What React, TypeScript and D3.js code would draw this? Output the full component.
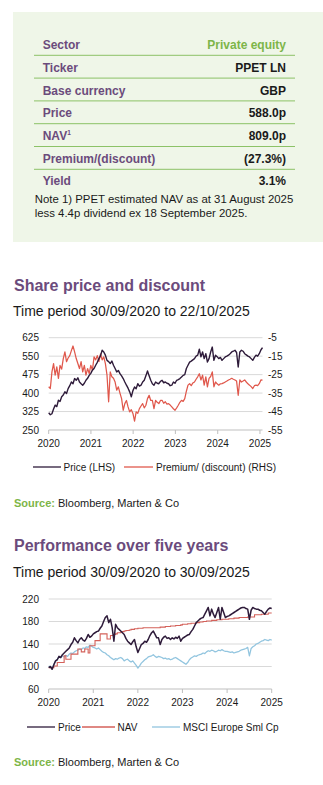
import React from "react";
import * as d3 from "d3";

// ---------- Fact table ----------
const tableLabels = ["Sector", "Ticker", "Base currency", "Price", "NAV", "Premium/(discount)", "Yield"];
const tableValues = ["Private equity", "PPET LN", "GBP", "588.0p", "809.0p", "(27.3%)", "3.1%"];
const noteLines = [
  "Note 1) PPET estimated NAV as at 31 August 2025",
  "less 4.4p dividend ex 18 September 2025.",
];

// ---------- Chart 1: share price and discount ----------
const spStart = "2020-09-30";
const spEnd = "2025-10-22";
const spPrice = [
  320, 312, 316, 335, 351, 345, 371, 366, 385, 392, 405, 398, 418, 430, 445, 438, 459, 452, 462, 445,
  438, 432, 440, 452, 460, 472, 480, 493, 500, 513, 525, 540, 552, 574, 567, 554, 533, 528, 520, 530,
  513, 500, 486, 492, 479, 470, 459, 445, 432, 420, 405, 385, 410, 425, 418, 438, 428, 432, 445, 452,
  470, 490, 470, 452, 438, 432, 445, 440, 438, 448, 452, 442, 445, 440, 438, 430, 432, 445, 440, 452,
  455, 459, 465, 472, 475, 500, 513, 526, 530, 535, 540, 550, 554, 578, 547, 567, 540, 560, 526, 540,
  567, 587, 533, 554, 548, 540, 545, 533, 540, 547, 550, 554, 560, 567, 570, 574, 565, 506, 567, 574,
  570, 560, 555, 550, 547, 540, 533, 545, 554, 550, 560, 575, 585,
];
const spPremium = [
  -31.6, -32.5, -23.5, -19, -25.3, -20.8, -27, -20, -22, -16.3, -12.7, -18, -16, -14.7, -12, -9.5, -12.7, -16.3, -19, -21.7,
  -18, -23.5, -20, -25.3, -21.7, -24.4, -20, -22.6, -15.4, -17, -14.7, -18, -13.7, -17, -15.4, -19, -25.3, -39.7, -23.5, -26.2,
  -27, -29, -33.4, -31.6, -35, -38, -44.3, -40.7, -39, -42.5, -45.2, -44, -46, -50.2, -45.2, -46, -43.4, -42, -40.7, -43,
  -41.6, -38, -36.2, -39, -38.9, -43.4, -38.9, -40, -40.7, -39, -38.9, -40.5, -39.7, -41, -40.7, -41.5, -42.5, -43.5, -44.3, -43,
  -41.6, -40, -38.9, -39.5, -38, -34, -30.7, -29.9, -31, -29.5, -29, -27.5, -26.2, -24.5, -27.9, -25.3, -30.7, -26.2, -31.6, -27,
  -26, -23.5, -31.6, -29, -30, -30.7, -30, -29.9, -29.5, -29, -28.5, -27.9, -27.5, -27, -27.5, -27.9, -28.5, -36.2, -27.9, -29,
  -28.5, -27.9, -29, -30, -30.7, -31.5, -32.5, -31, -30.7, -31, -29.9, -27.9, -28,
];
const spLeftTicks = [250, 325, 400, 475, 550, 625];
const spRightTicks = [-55, -45, -35, -25, -15, -5];
const spYearLabels = ["2020", "2021", "2022", "2023", "2024", "2025"];

// ---------- Chart 2: performance over five years ----------
const pfStart = "2020-09-30";
const pfEnd = "2025-09-30";
const pfPrice = [
  98, 100, 95, 103, 110, 112, 118, 116, 121, 124, 127, 130, 133, 139, 143, 151, 146, 142, 148, 151,
  147, 145, 150, 157, 152, 154, 158, 160, 162, 163, 168, 172, 180, 187, 190, 178, 184, 169, 145, 175,
  169, 166, 163, 160, 157, 150, 145, 142, 139, 144, 148, 135, 125, 132, 139, 141, 145, 143, 148, 155,
  160, 163, 157, 151, 151, 139, 148, 152, 154, 150, 151, 148, 151, 149, 152, 150, 154, 145, 150, 152,
  154, 156, 157, 162, 166, 172, 178, 181, 184, 186, 187, 193, 199, 205, 190, 202, 193, 187, 196, 205,
  184, 205, 196, 187, 189, 190, 192, 194, 196, 198, 200, 202, 204, 205, 205, 203, 202, 184, 200, 205,
  203, 202, 202, 200, 199, 196, 193, 198, 202, 204, 203,
];
const pfNav = [
  98, 98, 98, 101, 101, 107, 107, 107, 107, 119, 113, 113, 113, 122, 122, 122, 122, 131, 131, 126,
  126, 131, 131, 124, 137, 137, 137, 146, 146, 146, 158, 158, 158, 158, 149, 149, 155, 155, 157, 158,
  160, 160, 161, 162, 163, 164, 164, 165, 166, 166, 167, 167, 168, 168, 168, 169, 169, 169, 169, 169,
  169, 169, 169, 169, 169, 170, 170, 170, 171, 171, 171, 172, 172, 172, 173, 173, 173, 174, 175, 175,
  175, 176, 176, 177, 177, 177, 178, 178, 179, 179, 180, 180, 181, 181, 181, 182, 182, 182, 183, 183,
  183, 184, 184, 184, 184, 185, 185, 185, 186, 186, 186, 187, 187, 187, 187, 187, 188, 188, 188, 188,
  192, 192, 192, 192, 193, 193, 193, 193, 195, 195, 195,
];
const pfMsci = [
  101, 99, 96, 104, 110, 113, 117, 116, 119, 117, 120, 118, 122, 124, 123, 126, 128, 129, 131, 130,
  133, 132, 135, 134, 138, 136, 134, 133, 131, 133, 130, 127, 125, 124, 121, 119, 116, 114, 112, 114,
  113, 115, 116, 114, 110, 112, 113, 110, 108, 110, 106, 102, 97, 101, 106, 109, 112, 114, 117, 118,
  119, 121, 118, 116, 118, 117, 116, 114, 115, 113, 114, 112, 113, 115, 116, 114, 112, 110, 108, 106,
  104, 107, 112, 115, 117, 119, 118, 120, 121, 122, 124, 123, 126, 128, 127, 129, 128, 126, 127, 129,
  128, 130, 128, 127, 127, 126, 125, 126, 124, 125, 126, 127, 129, 130, 131, 132, 134, 119, 132, 135,
  137, 140, 141, 143, 145, 146, 148, 147, 146, 148, 147,
];
const pfTicks = [60, 100, 140, 180, 220];
const pfYearLabels = ["2020", "2021", "2022", "2023", "2024", "2025"];

// ---------- helpers ----------
const FONT = "'Liberation Sans', Arial, Helvetica, sans-serif";
const PURPLE = "#6b4b7c";
const GREEN = "#7db548";
const DARK = "#2e1b3a";
const RED = "#e0584c";
const NAVRED = "#d4615a";
const BLUE = "#92c5df";
const GRID = "#d9d9d9";
const AXIS = "#bfbfbf";
const TXT = "#1a1a1a";

function makeDates(start: string, end: string, n: number): Date[] {
  const s = new Date(start + "T00:00:00").getTime();
  const e = new Date(end + "T00:00:00").getTime();
  return d3.range(n).map((i) => new Date(s + (i * (e - s)) / (n - 1)));
}

export default function App() {
  const W = 323;
  const H = 785;

  // Chart 1 scales
  const sp0 = new Date(spStart + "T00:00:00");
  const sp1 = new Date(spEnd + "T00:00:00");
  const spX = d3.scaleTime().domain([sp0, sp1]).range([48.7, 262.5]);
  const spYL = d3.scaleLinear().domain([250, 625]).range([430, 337.7]);
  const spYR = d3.scaleLinear().domain([-55, -5]).range([430, 337.7]);
  const spDates = makeDates(spStart, spEnd, spPrice.length);
  const spPriceLine = d3
    .line<number>()
    .x((_, i) => spX(spDates[i]))
    .y((d) => spYL(d))(spPrice) as string;
  const spPremLine = d3
    .line<number>()
    .x((_, i) => spX(spDates[i]))
    .y((d) => spYR(d))(spPremium) as string;
  const spTickDates = spYearLabels.map((_, k) => d3.timeYear.offset(sp0, k));

  // Chart 2 scales
  const pf0 = new Date(pfStart + "T00:00:00");
  const pf1 = new Date(pfEnd + "T00:00:00");
  const pfX = d3.scaleTime().domain([pf0, pf1]).range([48.7, 271.7]);
  const pfY = d3.scaleLinear().domain([60, 220]).range([689, 599]);
  const pfDates = makeDates(pfStart, pfEnd, pfPrice.length);
  const mk = (vals: number[], curve: d3.CurveFactory) =>
    d3
      .line<number>()
      .x((_, i) => pfX(pfDates[i]))
      .y((d) => pfY(d))
      .curve(curve)(vals) as string;
  const pfPriceLine = mk(pfPrice, d3.curveLinear);
  const pfNavLine = mk(pfNav, d3.curveStepAfter);
  const pfMsciLine = mk(pfMsci, d3.curveLinear);
  const pfTickDates = pfYearLabels.map((_, k) => d3.timeYear.offset(pf0, k));

  const rowCenter = (r: number) => 45 + r * 22.67;

  return (
    <svg
      width={W}
      height={H}
      viewBox={`0 0 ${W} ${H}`}
      style={{ position: "absolute", left: 0, top: 0, background: "#fff" }}
      fontFamily={FONT}
    >
      <rect x={0} y={0} width={W} height={H} fill="#ffffff" />
      {/* Fact box */}
      <rect x={13} y={12} width={310} height={230} fill="#eff6e8" />
      {tableLabels.map((lab, r) => (
        <g key={lab}>
          <text x={42.7} y={rowCenter(r) + 4.2} fontSize={12} fontWeight="bold" fill={PURPLE}>
            {lab}
            {lab === "NAV" ? (
              <tspan fontSize={6.5} dy={-4.5}>
                1
              </tspan>
            ) : null}
          </text>
          <text
            x={286}
            y={rowCenter(r) + 4.2}
            fontSize={12}
            fontWeight="bold"
            textAnchor="end"
            fill={r === 0 ? GREEN : TXT}
          >
            {tableValues[r]}
          </text>
          {r < tableLabels.length - 1 ? (
            <line x1={34} x2={295} y1={55.3 + r * 22.8} y2={55.3 + r * 22.8} stroke="#8cc267" strokeWidth={1} />
          ) : null}
        </g>
      ))}
      {noteLines.map((t, i) => (
        <text key={t} x={34.7} y={203 + i * 14.3} fontSize={11.4} fill={TXT}>
          {t}
        </text>
      ))}

      {/* ---------- Chart 1 ---------- */}
      <text x={14} y={290.5} fontSize={16} fontWeight="bold" fill={PURPLE}>
        Share price and discount
      </text>
      <text x={13} y={316} fontSize={14} fill={TXT}>
        Time period 30/09/2020 to 22/10/2025
      </text>
      {spLeftTicks.map((v) => (
        <g key={"spl" + v}>
          {v !== 250 ? (
            <line x1={48.7} x2={262.5} y1={spYL(v)} y2={spYL(v)} stroke={GRID} strokeWidth={1} />
          ) : null}
          <text x={39} y={spYL(v) + 3.6} fontSize={10} textAnchor="end" fill={TXT}>
            {v}
          </text>
        </g>
      ))}
      {spRightTicks.map((v) => (
        <text key={"spr" + v} x={268} y={spYR(v) + 3.6} fontSize={10} fill={TXT}>
          {v}
        </text>
      ))}
      <line x1={48.7} x2={262.5} y1={430} y2={430} stroke={AXIS} strokeWidth={1} />
      {spTickDates.map((d, k) => (
        <g key={"spx" + k}>
          <line x1={spX(d)} x2={spX(d)} y1={430} y2={434} stroke={AXIS} strokeWidth={1} />
          <text x={spX(d)} y={446.5} fontSize={10} textAnchor="middle" fill={TXT}>
            {spYearLabels[k]}
          </text>
        </g>
      ))}
      <path d={spPremLine} fill="none" stroke={RED} strokeWidth={1.25} strokeLinejoin="round" />
      <path d={spPriceLine} fill="none" stroke={DARK} strokeWidth={1.4} strokeLinejoin="round" />
      {/* legend */}
      <line x1={33} x2={61} y1={467} y2={467} stroke={DARK} strokeWidth={1.3} />
      <text x={63.5} y={470.5} fontSize={10} fill={TXT}>
        Price (LHS)
      </text>
      <line x1={124} x2={153} y1={467} y2={467} stroke={RED} strokeWidth={1.3} />
      <text x={156} y={470.5} fontSize={10} fill={TXT}>
        Premium/ (discount) (RHS)
      </text>
      <text x={14} y={507} fontSize={11} fill={TXT}>
        <tspan fontWeight="bold" fill={GREEN}>
          Source:
        </tspan>
        <tspan> Bloomberg, Marten &amp; Co</tspan>
      </text>

      {/* ---------- Chart 2 ---------- */}
      <text x={14} y={550.5} fontSize={16} fontWeight="bold" fill={PURPLE}>
        Performance over five years
      </text>
      <text x={13} y={577} fontSize={14} fill={TXT}>
        Time period 30/09/2020 to 30/09/2025
      </text>
      {pfTicks.map((v) => (
        <g key={"pf" + v}>
          {v !== 60 ? (
            <line x1={48.7} x2={271.7} y1={pfY(v)} y2={pfY(v)} stroke={GRID} strokeWidth={1} />
          ) : null}
          <text x={39} y={pfY(v) + 3.6} fontSize={10} textAnchor="end" fill={TXT}>
            {v}
          </text>
        </g>
      ))}
      <line x1={48.7} x2={271.7} y1={689} y2={689} stroke={AXIS} strokeWidth={1} />
      {pfTickDates.map((d, k) => (
        <g key={"pfx" + k}>
          <line x1={pfX(d)} x2={pfX(d)} y1={689} y2={693} stroke={AXIS} strokeWidth={1} />
          <text x={pfX(d)} y={705.5} fontSize={10} textAnchor="middle" fill={TXT}>
            {pfYearLabels[k]}
          </text>
        </g>
      ))}
      <path d={pfMsciLine} fill="none" stroke={BLUE} strokeWidth={1.25} strokeLinejoin="round" />
      <path d={pfNavLine} fill="none" stroke={NAVRED} strokeWidth={1.1} />
      <path d={pfPriceLine} fill="none" stroke={DARK} strokeWidth={1.5} strokeLinejoin="round" />
      {/* legend */}
      <line x1={27} x2={55} y1={727} y2={727} stroke={DARK} strokeWidth={1.3} />
      <text x={58} y={730.5} fontSize={10} fill={TXT}>
        Price
      </text>
      <line x1={82} x2={115} y1={727} y2={727} stroke={NAVRED} strokeWidth={1.3} />
      <text x={117.5} y={730.5} fontSize={10} fill={TXT}>
        NAV
      </text>
      <line x1={152} x2={180} y1={727} y2={727} stroke={BLUE} strokeWidth={1.3} />
      <text x={183} y={730.5} fontSize={10} fill={TXT}>
        MSCI Europe Sml Cp
      </text>
      <text x={14} y={766} fontSize={11} fill={TXT}>
        <tspan fontWeight="bold" fill={GREEN}>
          Source:
        </tspan>
        <tspan> Bloomberg, Marten &amp; Co</tspan>
      </text>
    </svg>
  );
}
